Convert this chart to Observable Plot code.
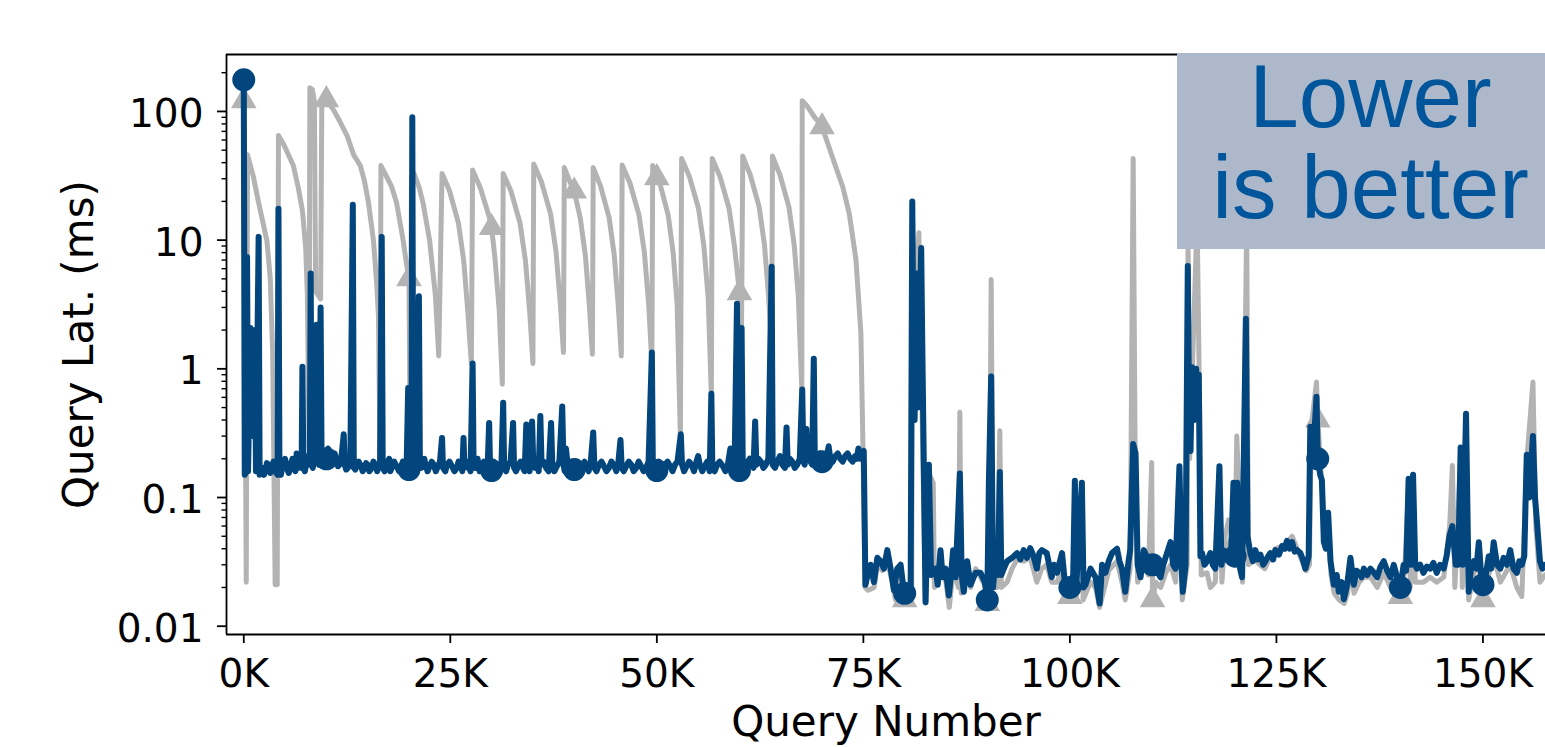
<!DOCTYPE html>
<html><head><meta charset="utf-8">
<script src="https://cdn.jsdelivr.net/npm/d3@7"></script>
<script src="https://cdn.jsdelivr.net/npm/@observablehq/plot@0.6"></script>
<style>
html,body{margin:0;padding:0;background:#fff;overflow:hidden;}
#wrap{position:relative;width:1545px;height:747px;overflow:hidden;}
#note{position:absolute;left:1177px;top:52.5px;width:387px;height:196.5px;background:#adb8ca;}
#note div{position:absolute;left:0;top:-1.85px;width:387px;text-align:center;font-family:"Liberation Sans",Arial,sans-serif;font-size:89px;color:#00559b;line-height:91px;white-space:nowrap;}
</style></head><body><div id="wrap"></div>
<script>
// x values are query numbers in thousands (K), y values are latency in ms
const xTicks = [0, 25, 50, 75, 100, 125, 150];
const yMajor = [0.01, 0.1, 1, 10, 100];
const yMinor = [0.02,0.03,0.04,0.05,0.06,0.07,0.08,0.09,0.2,0.3,0.4,0.5,0.6,0.7,0.8,0.9,2,3,4,5,6,7,8,9,20,30,40,50,60,70,80,90,200];
const markerK = [0,10,20,30,40,50,60,70,80,90,100,110,120,130,140,150];

// baseline (gray) series
const grayPts = [
[0,121],[0.3,0.022],[0.45,46],[1.17,31],[1.8,19.5],[2.4,13],[2.8,9.9],[3.2,5.1],[3.5,1.34],[3.8,0.021],[4.05,0.021],
[4.2,65],[4.8,56],[6.0,38],[6.6,25.5],[7.1,17],[7.5,8.7],[7.7,3.7],[7.9,0.25],
[8.0,153],[8.3,148],[8.55,120],[8.7,4],[9.3,3.5],[9.45,125],[10,123],[10.9,102],[11.7,82],[12.5,65],[13.3,46],[14.1,38],[14.6,29],[15.1,19.5],[15.7,9.9],[16.1,4.5],[16.3,2.6],[16.5,0.2],
[16.6,38],[17.3,31],[17.9,26],[18.5,19.5],[19.3,9.9],[19.7,6.5],[20,5.0],[20.15,0.2],
[20.3,31],[20.6,33],[21.2,26],[21.7,19.5],[22.5,9.9],[23.2,3.7],[23.6,1.26],
[24.0,33],[24.9,24.2],[25.98,13.6],[26.63,6.9],[27.13,2.72],[27.55,1.1],
[27.7,35],[28.63,25.5],[29.74,15],[30,12.5],[30.4,7.3],[30.92,2.87],[31.3,0.76],
[31.4,33],[32.33,24.2],[33.44,13.6],[34.1,6.9],[34.62,2.72],[35.0,1.1],
[35.1,39],[36.03,28.4],[37.14,16],[37.8,8.1],[38.32,3.2],[38.7,1.34],
[38.8,36.6],[39.68,26.4],[40,24],[40.73,14.9],[41.36,7.5],[41.85,2.98],[42.2,1.3],
[42.3,36.6],[43.18,26.4],[44.23,14.9],[44.86,7.5],[45.35,2.98],[45.7,1.26],
[45.8,38.4],[46.73,27.9],[47.84,15.7],[48.5,7.95],[49.02,3.14],[49.4,1.1],
[49.5,38],[50,30.5],[50.35,27.9],[51.37,15.7],[51.98,7.95],[52.46,3.14],[52.85,0.3],
[53.0,43],[53.93,31.4],[55.04,17.7],[55.7,8.95],[56.22,3.53],[56.6,0.62],
[56.7,43],[57.63,31.4],[58.74,17.7],[59.4,8.95],[60,3.9],[60.25,2.0],
[60.4,45],[61.3,32.2],[62.38,18.2],[63.03,9.2],[63.53,3.6],[63.9,1.5],
[64.0,45],[64.9,32.2],[65.98,18.2],[66.63,9.2],[67.13,3.6],[67.55,0.69],
[67.6,121],[68.2,110],[69.0,92],[70,76],[71.6,38],[72.5,26],[73.3,16],[74.1,7.1],[74.7,1.9],[74.95,0.25],[75.2,0.02],
[75.6,0.019],[76.3,0.02],[76.7,0.03],[77.3,0.027],[77.9,0.032],[78.5,0.022],[78.9,0.016],[79.5,0.025],[80,0.016],[80.5,0.015],[80.85,0.018],
[80.95,14],[81.2,3],[81.72,11.4],[81.9,2],[82.1,0.5],[82.5,0.015],[83.0,0.15],[83.46,0.13],[83.6,0.02],[84.3,0.03],[85.0,0.022],[85.4,0.014],[85.9,0.028],[86.5,0.02],
[86.68,0.46],[86.85,0.018],[87.6,0.027],[88.0,0.02],[88.6,0.028],[89.2,0.024],[89.8,0.02],[90,0.015],[90.3,0.1],[90.47,4.94],[90.7,0.02],[91.2,0.02],[91.52,0.33],[91.7,0.02],
[92.4,0.022],[93.0,0.028],[93.6,0.033],[94.4,0.032],[95.2,0.034],[96.0,0.022],[96.6,0.028],[97.2,0.03],[97.8,0.022],[98.45,0.022],[99.05,0.028],[99.45,0.017],[100,0.017],
[100.5,0.018],[100.6,0.12],[100.75,0.016],[101.45,0.11],[101.6,0.016],[102.5,0.022],[103.1,0.02],[103.6,0.014],[104.7,0.027],[105.7,0.032],[106.3,0.022],[106.7,0.016],[107.3,0.028],
[107.66,43],[107.9,0.2],[108.2,0.022],[108.9,0.03],[109.5,0.025],[109.9,0.187],[110,0.016],[110.4,0.022],[111.0,0.02],[111.6,0.026],[112.2,0.03],[112.8,0.022],[113.26,0.17],[113.6,0.016],
[114.2,0.03],[114.3,9.9],[114.5,0.2],[114.8,0.9],[115.4,15],[115.7,0.5],[115.9,0.025],[116.6,0.026],[117.0,0.02],[117.6,0.022],[118.1,0.15],[118.4,0.022],[118.8,0.05],[119.2,0.067],[119.6,0.06],
[120,0.045],[120.2,0.3],[120.5,0.1],[120.9,0.022],[121.4,15],[121.6,0.03],[122.4,0.033],[123.0,0.03],[123.6,0.028],[124.3,0.035],[124.9,0.04],[125.7,0.042],[126.3,0.045],[126.9,0.05],
[127.5,0.04],[128.0,0.033],[128.6,0.027],[129.0,0.03],[129.2,0.35],[129.85,0.79],[130,0.40],[130.3,0.2],[130.6,0.1],[130.9,0.04],[131.26,0.06],[131.6,0.025],[132.0,0.018],[132.6,0.016],
[133.2,0.015],[133.6,0.018],[134.0,0.028],[134.4,0.018],[135.0,0.022],[135.6,0.024],[136.4,0.024],[137.2,0.02],[138.0,0.026],[138.8,0.02],[139.6,0.02],[140,0.017],[140.5,0.026],
[141.0,0.12],[141.2,0.02],[141.54,0.13],[141.8,0.022],[142.8,0.022],[143.6,0.024],[144.4,0.022],[145.25,0.024],[145.97,0.06],[146.3,0.177],[146.6,0.02],[147.3,0.2],[147.5,0.02],
[147.95,0.4],[148.27,0.016],[148.9,0.026],[149.5,0.03],[150,0.016],[150.3,0.02],[151.3,0.035],[152.1,0.022],[153.3,0.03],[154.1,0.02],[154.7,0.017],[155.3,0.19],[156.05,0.79],
[156.4,0.06],[156.9,0.022],[157.5,0.025]
];

// improved (blue) series: spikes and main level
const bluePts = [
[0,176],[0.12,0.15],[0.3,0.16],[0.4,7.4],[0.52,0.16],[0.8,2.08],[0.92,0.4],[1.05,2.0],[1.18,0.3],[1.35,2.0],[1.48,0.16],[1.8,10.6],[1.92,0.15],
[2.3,0.17],[2.6,0.16],[3.0,0.18],[3.4,0.17],[3.8,0.16],[4.1,0.15],[4.2,17.5],[4.32,0.16],[4.7,0.18],[5.0,0.2],[5.2,0.17],[5.7,0.18],[6.1,0.17],[6.4,0.22],[6.6,0.17],
[7.0,0.17],[7.1,1.04],[7.22,0.17],[7.6,0.19],[8.0,0.18],[8.1,5.5],[8.22,0.18],[8.5,0.19],[8.8,2.2],[8.92,0.2],[9.3,3.0],[9.42,0.2],[9.7,0.22],[10,0.2],[10.4,0.22],
[10.8,0.19],[11.2,0.2],[11.6,0.18],[12.1,0.31],[12.22,0.18],[12.6,0.17],[13.2,18.8],[13.32,0.17],[13.7,0.18],[14.2,0.175],[14.6,0.17],[15.0,0.18],[15.5,0.17],[16.0,0.175],
[16.3,0.17],[16.7,10.6],[16.82,0.17],[17.3,0.18],[17.6,0.2],[17.9,0.17],[18.5,0.175],[19.0,0.17],[19.5,0.18],[19.9,0.71],[20,0.165],[20.3,0.17],[20.4,90],[20.52,0.18],
[20.8,0.19],[21.2,3.66],[21.32,0.18],[21.7,0.19],[22.0,0.18],[22.5,0.175],[23.0,0.18],[23.5,0.175],[24.0,0.29],[24.12,0.17],[24.6,0.18],[25.2,0.175],[25.8,0.17],[26.3,0.18],
[26.6,0.29],[26.72,0.17],[27.2,0.175],[27.7,1.1],[27.82,0.18],[28.3,0.2],[28.8,0.175],[29.3,0.17],[29.7,0.38],[29.82,0.17],[30,0.162],[30.5,0.17],[31.0,0.175],[31.4,0.545],
[31.52,0.17],[32.0,0.18],[32.6,0.38],[32.72,0.17],[33.2,0.175],[33.8,0.17],[34.2,0.37],[34.35,0.18],[34.9,0.39],[35.05,0.18],[35.5,0.2],[35.9,0.43],[36.05,0.18],[36.6,0.17],
[37.2,0.38],[37.35,0.18],[37.9,0.175],[38.55,0.51],[38.7,0.18],[39.0,0.24],[39.2,0.18],[39.6,0.17],[40,0.165],[40.5,0.17],[41.0,0.175],[41.5,0.17],[42.3,0.32],[42.45,0.17],
[43.0,0.18],[43.6,0.175],[44.2,0.17],[44.8,0.18],[45.6,0.28],[45.75,0.17],[46.3,0.175],[46.9,0.18],[47.5,0.17],[48.1,0.175],[48.7,0.17],[49.4,1.34],[49.52,0.17],[50,0.162],
[50.5,0.17],[51.0,0.18],[51.6,0.175],[52.2,0.18],[52.9,0.31],[53.05,0.18],[53.6,0.175],[54.2,0.18],[55.0,0.21],[55.2,0.18],[55.8,0.175],[56.6,0.64],[56.72,0.17],[57.3,0.18],
[58.0,0.175],[58.6,0.18],[58.9,0.24],[59.1,0.18],[59.7,3.2],[59.85,0.17],[60,0.162],[60.15,0.17],[60.26,2.08],[60.4,0.18],[61.0,0.19],[61.5,0.18],[61.9,0.39],[62.05,0.18],
[62.6,0.19],[63.2,0.18],[63.9,6.2],[64.02,0.18],[64.6,0.19],[65.2,0.18],[65.7,0.35],[65.85,0.18],[66.4,0.19],[67.0,0.18],[67.6,0.69],[67.75,0.19],[68.1,0.34],[68.25,0.2],
[68.6,0.19],[69.0,1.2],[69.12,0.2],[69.5,0.21],[70,0.19],[70.5,0.21],[70.8,0.25],[71.0,0.2],[71.6,0.21],[72.2,0.2],[72.8,0.21],[73.4,0.2],[74.0,0.21],[74.4,0.24],[74.6,0.2],
[75.05,0.23],[75.25,0.021],[75.68,0.028],[75.88,0.030],[76.28,0.022],[76.69,0.034],[77.09,0.032],[77.49,0.028],[77.9,0.039],[78.3,0.028],[78.7,0.019],[79.1,0.028],[79.51,0.030],
[79.91,0.0185],[80,0.018],[80.31,0.0173],[80.72,0.018],[80.92,20],[81.05,1.5],[81.2,0.4],[81.44,5.5],[81.6,0.5],[82.0,8.7],[82.15,1.26],[82.53,0.0154],[82.93,0.18],[83.2,0.025],
[83.74,0.028],[84.0,0.021],[84.34,0.039],[84.6,0.024],[84.95,0.028],[85.35,0.0173],[85.6,0.025],[85.87,0.039],[86.16,0.024],[86.68,0.154],[86.9,0.025],[87.16,0.0185],[87.57,0.032],
[87.97,0.021],[88.57,0.026],[89.18,0.026],[89.7,0.022],[90,0.016],[90.2,0.14],[90.47,0.87],[90.7,0.02],[90.99,0.034],[91.3,0.025],[91.52,0.158],[91.7,0.025],[92.0,0.028],
[92.4,0.032],[93.0,0.034],[93.6,0.037],[94.0,0.033],[94.4,0.039],[94.8,0.034],[95.2,0.0405],[95.6,0.035],[96.0,0.028],[96.3,0.037],[96.6,0.039],[97.2,0.037],[97.8,0.024],
[98.1,0.03],[98.45,0.026],[99.05,0.037],[99.45,0.020],[99.86,0.021],[100,0.02],[100.4,0.025],[100.6,0.135],[100.8,0.022],[101.45,0.13],[101.65,0.02],[101.9,0.021],[102.5,0.028],
[103.1,0.024],[103.6,0.015],[103.9,0.030],[104.3,0.026],[104.7,0.032],[105.1,0.037],[105.7,0.040],[106.0,0.032],[106.3,0.028],[106.7,0.0185],[107.1,0.032],[107.3,0.039],
[107.66,0.26],[107.95,0.22],[108.2,0.03],[108.55,0.024],[108.95,0.039],[109.35,0.034],[109.7,0.03],[110,0.03],[110.36,0.028],[110.97,0.024],[111.3,0.03],[111.57,0.034],
[112.18,0.045],[112.5,0.03],[112.78,0.028],[113.26,0.175],[113.5,0.03],[113.67,0.0185],[114.0,0.03],[114.27,6.3],[114.45,0.3],[114.6,0.23],[114.8,1.03],[115.0,0.4],[115.28,1.0],
[115.45,0.5],[115.6,0.9],[115.8,0.035],[116.0,0.037],[116.3,0.03],[116.6,0.032],[117.0,0.037],[117.3,0.03],[117.6,0.028],[118.1,0.175],[118.35,0.03],[118.6,0.039],[118.9,0.033],
[119.2,0.036],[119.5,0.034],[119.8,0.13],[120,0.035],[120.25,0.13],[120.6,0.028],[120.84,0.024],[121.3,2.45],[121.5,0.05],[121.85,0.037],[122.15,0.032],[122.45,0.039],[122.75,0.033],
[123.06,0.036],[123.4,0.03],[123.66,0.032],[124.0,0.035],[124.27,0.037],[124.6,0.033],[124.87,0.039],[125.3,0.036],[125.68,0.042],[126.0,0.04],[126.28,0.046],[126.6,0.04],
[126.9,0.045],[127.2,0.038],[127.5,0.039],[127.9,0.037],[128.2,0.033],[128.5,0.028],[128.9,0.035],[129.1,0.354],[129.3,0.2],[129.5,0.25],[129.85,0.606],[130,0.2],[130.3,0.15],
[130.5,0.137],[130.74,0.045],[131.0,0.04],[131.26,0.076],[131.55,0.032],[131.95,0.021],[132.3,0.025],[132.55,0.0185],[132.9,0.022],[133.16,0.0162],[133.56,0.021],[133.96,0.034],
[134.37,0.021],[134.7,0.027],[134.97,0.026],[135.3,0.024],[135.58,0.028],[136.0,0.025],[136.38,0.028],[136.8,0.026],[137.19,0.024],[137.6,0.029],[137.99,0.032],[138.4,0.027],
[138.8,0.024],[139.2,0.03],[139.6,0.024],[140,0.02],[140.4,0.03],[140.7,0.027],[141.0,0.14],[141.25,0.03],[141.54,0.15],[141.8,0.03],[142.0,0.028],[142.4,0.03],[142.8,0.026],
[143.2,0.029],[143.6,0.028],[144.0,0.031],[144.4,0.026],[144.8,0.03],[145.25,0.028],[145.6,0.035],[145.97,0.051],[146.3,0.06],[146.7,0.03],[147.0,0.03],[147.3,0.245],[147.55,0.03],
[147.95,0.447],[148.27,0.0185],[148.6,0.03],[148.9,0.032],[149.2,0.028],[149.5,0.045],[149.8,0.024],[150,0.021],[150.3,0.024],[150.7,0.035],[151.0,0.028],[151.3,0.045],[151.7,0.03],
[152.1,0.028],[152.5,0.034],[152.9,0.03],[153.3,0.039],[153.7,0.028],[154.1,0.026],[154.4,0.032],[154.7,0.03],[155.0,0.035],[155.3,0.215],[155.6,0.1],[156.05,0.30],[156.3,0.1],
[156.5,0.07],[156.9,0.032],[157.2,0.028],[157.5,0.03]
];

// improved (blue) series: small wiggles of the main level, read between the spikes
const blueWiggle = [
[2.45,0.15],[2.8,0.185],[3.2,0.155],[3.6,0.19],[4.5,0.15],[4.9,0.19],[5.45,0.155],[5.9,0.2],[6.25,0.16],[6.8,0.19],[7.4,0.16],[7.8,0.21],[8.35,0.17],[9.1,0.18],[9.55,0.23],[9.85,0.19],
[10.2,0.24],[10.6,0.2],[11.0,0.22],[11.4,0.175],[11.8,0.2],[12.4,0.165],[12.9,0.19],[13.5,0.165],[13.9,0.19],[14.4,0.16],[14.8,0.185],[15.2,0.16],[15.7,0.19],[16.15,0.16],[16.5,0.185],
[17.05,0.16],[17.45,0.19],[17.75,0.16],[18.2,0.19],[18.8,0.16],[19.25,0.19],[19.7,0.16],[20.6,0.16],[21.0,0.2],[21.5,0.17],[21.85,0.2],[22.25,0.16],[22.75,0.19],[23.25,0.16],[23.75,0.19],
[24.4,0.16],[24.9,0.19],[25.5,0.16],[26.0,0.19],[26.45,0.16],[26.95,0.19],[27.45,0.16],[28.05,0.17],[28.55,0.16],[29.05,0.19],[29.5,0.16],[30.25,0.19],[30.75,0.16],[31.2,0.19],
[31.75,0.16],[32.3,0.19],[32.95,0.16],[33.5,0.19],[34.0,0.16],[34.6,0.16],[35.25,0.17],[35.7,0.16],[36.3,0.19],[36.9,0.16],[37.6,0.16],[38.2,0.19],[38.85,0.16],[39.4,0.19],[39.8,0.155],
[40.25,0.19],[40.75,0.16],[41.25,0.19],[41.75,0.16],[42.0,0.19],[42.7,0.16],[43.3,0.19],[43.9,0.16],[44.5,0.19],[45.1,0.16],[45.35,0.19],[46.0,0.16],[46.6,0.19],[47.2,0.16],[47.8,0.19],
[48.4,0.16],[49.0,0.19],[49.75,0.155],[50.25,0.19],[50.75,0.16],[51.3,0.19],[51.9,0.16],[52.5,0.19],[53.3,0.16],[53.9,0.19],[54.5,0.16],[54.8,0.19],[55.5,0.16],[56.1,0.19],[56.4,0.16],
[57.0,0.16],[57.6,0.19],[58.3,0.16],[59.4,0.16],[60.7,0.17],[61.25,0.2],[61.7,0.17],[62.3,0.2],[62.9,0.17],[63.5,0.2],[64.3,0.17],[64.9,0.21],[65.5,0.17],[66.1,0.2],[66.7,0.17],
[67.3,0.2],[67.9,0.18],[68.45,0.21],[68.8,0.18],[69.3,0.2],[69.75,0.22],[70.25,0.19],[70.65,0.22],[71.3,0.19],[71.9,0.22],[72.5,0.19],[73.1,0.22],[73.7,0.19],[74.2,0.2],[74.8,0.22]
];

const BLUE = "#03467e", GRAY = "#b3b3b3";
const toObj = a => a.map(([k, v]) => ({k, v}));
const G = toObj(grayPts);
const B = d3.sort(toObj(bluePts.concat(blueWiggle)), d => d.k);
const gM = markerK.map(k => G.find(d => d.k === k)).filter(Boolean);
const bM = markerK.map(k => B.find(d => d.k === k)).filter(Boolean);
const xDom = [-2.09, 157.57], yDom = [0.00862, 277];

const chart = Plot.plot({
  width: 1545, height: 747,
  marginLeft: 226, marginRight: 0, marginTop: 54, marginBottom: 113,
  style: {fontFamily: "'DejaVu Sans', sans-serif", fontSize: "39px", background: "#fff", color: "#000", overflow: "visible"},
  x: {type: "linear", domain: xDom},
  y: {type: "log", domain: yDom},
  marks: [
    Plot.line(G, {x: "k", y: "v", stroke: GRAY, strokeWidth: 5, strokeLinejoin: "round", strokeLinecap: "round"}),
    Plot.dot(gM, {x: "k", y: "v", symbol: "triangle", r: 9.5, fill: GRAY, stroke: "none"}),
    Plot.line(B, {x: "k", y: "v", stroke: BLUE, strokeWidth: 6, strokeLinejoin: "round", strokeLinecap: "round"}),
    Plot.dot(bM, {x: "k", y: "v", r: 11.5, fill: BLUE, stroke: "none"}),
    Plot.ruleX([xDom[0]], {stroke: "#000", strokeWidth: 1.8}),
    Plot.ruleY(yDom, {stroke: "#000", strokeWidth: 1.8}),
    Plot.axisX({ticks: xTicks, tickFormat: d => d + "K", tickSize: 9, tickPadding: 16, strokeWidth: 1.8, label: null}),
    Plot.axisY({ticks: yMajor, tickSize: 9, fill: "none", strokeWidth: 1.8, label: null}),
    Plot.axisY({ticks: yMinor, tickSize: 4.5, fill: "none", strokeWidth: 1.4, label: null}),
    Plot.axisY({ticks: yMajor, tickSize: 0, tickPadding: 23, dy: 3, tickFormat: d => String(d), label: null}),
    Plot.text(["Query Lat. (ms)"], {text: d => d, frameAnchor: "left", dx: -147, rotate: -90, fontSize: 42, textAnchor: "middle", lineAnchor: "middle", fill: "#000"}),
    Plot.text(["Query Number"], {text: d => d, frameAnchor: "bottom", dy: 88.5, fontSize: 42, textAnchor: "middle", lineAnchor: "middle", fill: "#000"})
  ]
});

const wrap = document.getElementById("wrap");
wrap.appendChild(chart);
const note = document.createElement("div");
note.id = "note";
note.innerHTML = "<div>Lower<br>is better</div>";
wrap.appendChild(note);
</script></body></html>
